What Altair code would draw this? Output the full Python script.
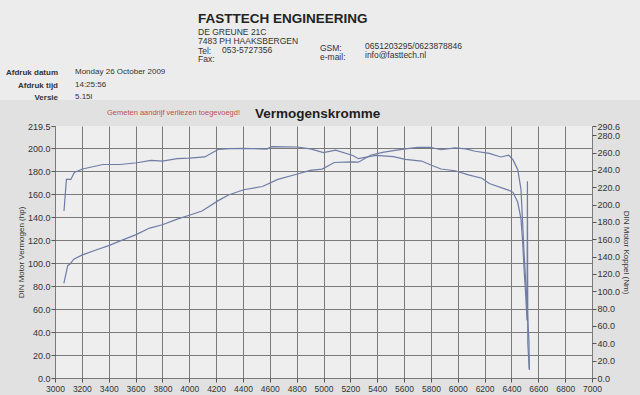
import altair as alt
import pandas as pd

# ---------------- data (read from the dyno print) ----------------
power_rpm = [3066, 3095, 3110, 3140, 3200, 3305, 3400, 3505, 3600, 3705, 3800, 3905, 4000, 4095,
             4216, 4292, 4406, 4545, 4660, 4800, 4900, 4990, 5080, 5205, 5260, 5350, 5440, 5520,
             5610, 5700, 5795, 5875, 5980, 6060, 6130, 6235, 6320, 6380, 6412, 6447, 6471, 6483,
             6495, 6506, 6518, 6530, 6534]
power_hp = [82.5, 98.0, 99.0, 103.5, 107.0, 111.5, 115.3, 120.3, 124.7, 130.6, 133.5, 138.2, 141.8, 145.5,
            154.5, 159.4, 164.0, 166.8, 173.0, 177.5, 180.9, 182.0, 187.7, 188.3, 188.0, 194.0, 196.5, 198.0,
            199.5, 200.8, 201.0, 198.8, 200.5, 199.5, 197.5, 195.7, 192.5, 194.0, 190.0, 181.4, 164.3, 136.0,
            107.0, 84.5, 58.7, 33.0, 7.0]

torque_rpm = [3067, 3085, 3118, 3144, 3205, 3357, 3485, 3610, 3715, 3800, 3910, 4000, 4115, 4175,
              4215, 4300, 4410, 4577, 4615, 4808, 4910, 5000, 5090, 5218, 5260, 5390, 5520, 5610,
              5730, 5800, 5875, 5980, 6080, 6180, 6235, 6377, 6412, 6447, 6471, 6483, 6495, 6506,
              6516, 6519, 6522, 6532]
torque_nm = [192.6, 229.0, 229.0, 237.0, 241.0, 246.2, 246.2, 248.2, 250.9, 250.2, 252.9, 253.5, 254.9, 260.1,
             263.5, 264.5, 264.8, 264.0, 266.8, 266.4, 264.0, 259.9, 262.8, 256.6, 252.9, 256.8, 255.3, 252.1,
             250.2, 245.6, 241.0, 239.0, 234.3, 230.4, 224.3, 216.7, 214.1, 202.6, 183.5, 157.5, 123.1, 96.1,
             66.2, 226.9, 39.7, 10.6]

x_ticks = list(range(3000, 7001, 200))
hp_ticks = [0, 20, 40, 60, 80, 100, 120, 140, 160, 180, 200, 219.5]
nm_ticks = [0, 20, 40, 60, 80, 100, 120, 140, 160, 180, 200, 220, 240, 260, 280, 290.6]

company = "FASTTECH ENGINEERING"
address = "DE GREUNE 21C\n7483 PH HAAKSBERGEN"
tel_fax_labels = "Tel:\nFax:"
tel_value = "053-5727356"
gsm_labels = "GSM:\ne-mail:"
gsm_values = "0651203295/0623878846\ninfo@fasttech.nl"
meta_labels = "Afdruk datum\nAfdruk tijd\nVersie"
meta_values = "Monday 26 October 2009\n14:25:56\n5.15l"
note_text = "Gemeten aandrijf verliezen toegevoegd!"
chart_title = "Vermogenskromme"
x_title = "Toerental (rpm)"
hp_title = "DIN Motor Vermogen (hp)"
nm_title = "DIN Motor Koppel (Nm)"

# ---------------- layout / style ----------------
W, H = 537, 252
PAD_L, PAD_T, PAD_R, PAD_B = 55, 126, 48, 17
FONT = "Liberation Sans"
LINE = "#6f7ca6"
GRID = "#7a7a7a"

power_df = pd.DataFrame({"rpm": power_rpm, "hp": power_hp, "i": range(len(power_rpm))})
torque_df = pd.DataFrame({"rpm": torque_rpm, "nm": torque_nm, "i": range(len(torque_rpm))})


def label(text, px, py, size=9, weight="normal", color="#333333", align="left", line_h=None):
    return alt.Chart(pd.DataFrame({"t": [text]})).mark_text(
        align=align, baseline="alphabetic", fontSize=size, fontWeight=weight,
        color=color, font=FONT, lineBreak="\n", lineHeight=line_h if line_h else size + 1,
    ).encode(text="t:N", x=alt.value(px - PAD_L), y=alt.value(py - PAD_T))


header_bg = alt.Chart(pd.DataFrame({"a": [0]})).mark_rect(color="#ececec").encode(
    x=alt.value(-PAD_L), x2=alt.value(640 - PAD_L), y=alt.value(-PAD_T), y2=alt.value(-26)
)

x_axis = alt.Axis(values=x_ticks, format="d", title=x_title, grid=True, gridColor=GRID,
                  tickSize=4, labelPadding=2, labelFontSize=8.5, labelOverlap=False,
                  labelFlush=False, titleY=21, titleBaseline="middle")
x_scale = alt.Scale(domain=[3000, 7000], nice=False, zero=False)

power_line = alt.Chart(power_df).mark_line(color=LINE, strokeWidth=1.2).encode(
    x=alt.X("rpm:Q", scale=x_scale, axis=x_axis),
    y=alt.Y("hp:Q", scale=alt.Scale(domain=[0, 219.5], nice=False, zero=False),
            axis=alt.Axis(values=hp_ticks, format=".1f", title=hp_title, grid=True, gridColor=GRID,
                          gridOpacity={"condition": {"test": "datum.value > 219", "value": 0}, "value": 1},
                          tickSize=4, labelPadding=1, titlePadding=2, titleFontSize=8)),
    order="i:Q",
)

torque_line = alt.Chart(torque_df).mark_line(color=LINE, strokeWidth=1.2).encode(
    x=alt.X("rpm:Q", scale=x_scale, axis=x_axis),
    y=alt.Y("nm:Q", scale=alt.Scale(domain=[0, 290.6], nice=False, zero=False),
            axis=alt.Axis(orient="right", values=nm_ticks, format=".1f", title=nm_title, grid=False,
                          tickSize=4, labelPadding=1, titlePadding=2, titleFontSize=8)),
    order="i:Q",
)

texts = [
    label(company, 198, 23, size=13.5, weight="bold", color="#222222"),
    label(address, 198, 35, size=8.5, line_h=8.5),
    label(tel_fax_labels, 198, 53.5, size=8.5, line_h=8.5),
    label(tel_value, 222, 53, size=8.5),
    label(gsm_labels, 320, 50.5, size=8.5, line_h=9),
    label(gsm_values, 365, 48.5, size=8.5, line_h=9.5),
    label(meta_labels, 58, 75, size=8, weight="bold", align="right", line_h=12.5),
    label(meta_values, 75, 74, size=8, line_h=12.5),
    label(note_text, 107, 115, size=7.5, color="#c0504d"),
    label(chart_title, 255, 118, size=13.5, weight="bold", color="#1e1e1e"),
]

chart = alt.layer(header_bg, power_line, torque_line, *texts).resolve_scale(
    y="independent"
).properties(
    width=W, height=H,
    padding={"left": PAD_L, "top": PAD_T, "right": PAD_R, "bottom": PAD_B},
    autosize=alt.AutoSizeParams(type="none"),
    background="#e1e1e1",
).configure_view(
    fill="#eeeeee", stroke=None
).configure_axis(
    labelFont=FONT, titleFont=FONT, labelFontSize=9, titleFontSize=9, titleFontWeight="normal",
    labelColor="#333333", titleColor="#333333", tickColor="#555555", domain=False,
)

chart.save("out.html", embed_options={"renderer": "svg", "actions": False})
